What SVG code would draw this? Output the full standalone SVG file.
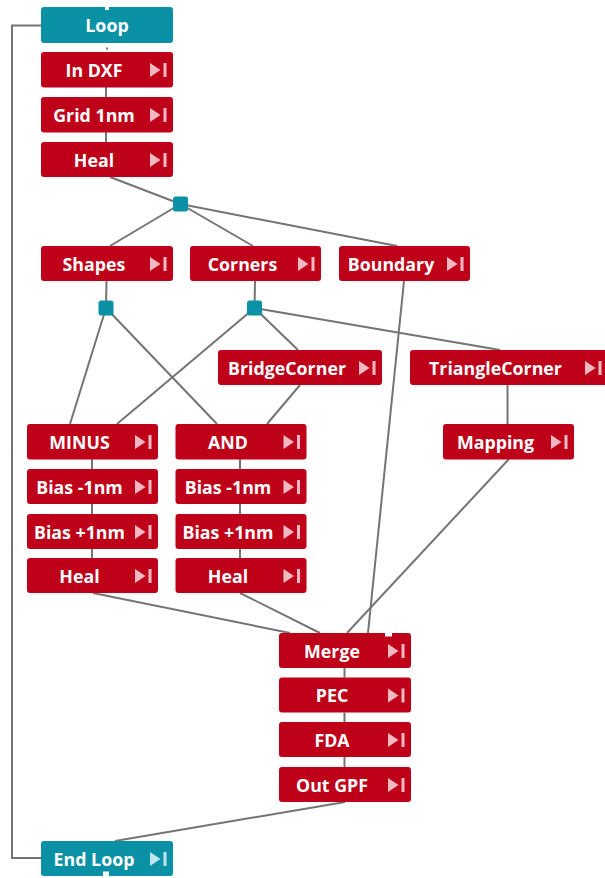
<svg xmlns="http://www.w3.org/2000/svg" width="605" height="878" viewBox="0 0 605 878">
  <style>
    .op rect.box { fill: #bf0019; }
    .lp rect.box { fill: #0b91a5; }
    .lbl { font-family: "Open Sans", "Noto Sans", "DejaVu Sans", sans-serif; font-weight: bold; font-size: 17.8px; fill: #ffffff; text-anchor: middle; }
    .op .ico { fill: #f2b9c2; }
    .lp .ico { fill: #bfe6ec; }
    .jn { fill: #0b91a5; }
    .notch { fill: #ffffff; }
    #connectors line, #connectors polyline { stroke: #747474; stroke-width: 2; fill: none; }
  </style>
  <defs>
    <!-- run-to-here icon: triangle + bar, placed relative to node's right edge -->
    <g id="runIcon">
      <polygon points="-23,11 -23,25 -12.5,18"/>
      <rect x="-9.5" y="11" width="3" height="14"/>
    </g>
  </defs>

  <g id="connectors">
    <polyline points="41,25.5 12,25.5 12,858 41,858"/>
    <line x1="107" y1="47.5" x2="107" y2="49.5"/>
    <line x1="106" y1="87" x2="106" y2="97"/>
    <line x1="106" y1="132" x2="106" y2="142"/>
    <line x1="110" y1="177" x2="180.5" y2="204"/>
    <line x1="180.5" y1="204" x2="110" y2="246"/>
    <line x1="180.5" y1="204" x2="253" y2="246"/>
    <line x1="180.5" y1="204" x2="397" y2="246"/>
    <line x1="106.5" y1="281" x2="106" y2="308"/>
    <line x1="255" y1="281" x2="254.5" y2="308"/>
    <line x1="106" y1="308" x2="70" y2="424"/>
    <line x1="106" y1="308" x2="217" y2="424"/>
    <line x1="254.5" y1="308" x2="117" y2="424"/>
    <line x1="254.5" y1="308" x2="298" y2="350"/>
    <line x1="254.5" y1="308" x2="500" y2="350"/>
    <line x1="300" y1="385" x2="267" y2="424"/>
    <line x1="507.5" y1="385" x2="507.5" y2="424"/>
    <line x1="92" y1="459" x2="92" y2="469"/>
    <line x1="92" y1="504" x2="92" y2="514"/>
    <line x1="92" y1="549" x2="92" y2="558"/>
    <line x1="240" y1="459" x2="240" y2="469"/>
    <line x1="240" y1="504" x2="240" y2="514"/>
    <line x1="240" y1="549" x2="240" y2="558"/>
    <line x1="93" y1="593" x2="290" y2="633"/>
    <line x1="240" y1="593" x2="320" y2="633"/>
    <line x1="509" y1="459" x2="347" y2="633"/>
    <line x1="404" y1="281" x2="368" y2="633"/>
    <line x1="344.5" y1="668" x2="344.5" y2="677.5"/>
    <line x1="344.5" y1="712.5" x2="344.5" y2="722"/>
    <line x1="344.5" y1="757" x2="344.5" y2="767"/>
    <line x1="345" y1="802" x2="115" y2="841"/>
  </g>

  <g id="junctions">
    <rect id="j-heal" class="jn" x="173" y="196.5" width="15" height="15" rx="2.5"/>
    <rect id="j-shapes" class="jn" x="98.5" y="300.5" width="15" height="15" rx="2.5"/>
    <rect id="j-corners" class="jn" x="247" y="300.5" width="15" height="15" rx="2.5"/>
  </g>

  <g id="loop" class="lp">
    <rect class="box" x="41" y="7" width="132" height="36" rx="3"/>
    <rect class="notch" x="105" y="7" width="4" height="3"/>
    <text class="lbl" x="107" y="31.5">Loop</text>
  </g>

  <g id="in-dxf" class="op">
    <rect class="box" x="41" y="52" width="132" height="35.5" rx="3"/>
    <text class="lbl" x="94" y="76.5">In DXF</text>
    <use href="#runIcon" class="ico" x="173" y="52"/>
  </g>
  <g id="grid" class="op">
    <rect class="box" x="41" y="97" width="132" height="35.5" rx="3"/>
    <text class="lbl" x="94" y="121.5">Grid 1nm</text>
    <use href="#runIcon" class="ico" x="173" y="97"/>
  </g>
  <g id="heal-top" class="op">
    <rect class="box" x="41" y="142" width="132" height="35" rx="3"/>
    <text class="lbl" x="94" y="166.5">Heal</text>
    <use href="#runIcon" class="ico" x="173" y="142"/>
  </g>

  <g id="shapes" class="op">
    <rect class="box" x="41" y="246" width="132" height="35" rx="3"/>
    <text class="lbl" x="94" y="270.5">Shapes</text>
    <use href="#runIcon" class="ico" x="173" y="246"/>
  </g>
  <g id="corners" class="op">
    <rect class="box" x="190" y="246" width="131" height="35" rx="3"/>
    <text class="lbl" x="242.5" y="270.5">Corners</text>
    <use href="#runIcon" class="ico" x="321" y="246"/>
  </g>
  <g id="boundary" class="op">
    <rect class="box" x="339" y="246" width="131" height="35" rx="3"/>
    <text class="lbl" x="391" y="270.5">Boundary</text>
    <use href="#runIcon" class="ico" x="470" y="246"/>
  </g>

  <g id="bridge-corner" class="op">
    <rect class="box" x="218" y="350" width="164" height="35" rx="3"/>
    <text class="lbl" x="287" y="374.5">BridgeCorner</text>
    <use href="#runIcon" class="ico" x="382" y="350"/>
  </g>
  <g id="triangle-corner" class="op">
    <rect class="box" x="410" y="350" width="198" height="35" rx="3"/>
    <text class="lbl" x="495.5" y="374.5">TriangleCorner</text>
    <use href="#runIcon" class="ico" x="608" y="350"/>
  </g>

  <g id="minus" class="op">
    <rect class="box" x="27" y="424" width="131" height="35.5" rx="3"/>
    <text class="lbl" x="79.5" y="448.5">MINUS</text>
    <use href="#runIcon" class="ico" x="158" y="424"/>
  </g>
  <g id="bias-m1-a" class="op">
    <rect class="box" x="27" y="469" width="131" height="35" rx="3"/>
    <text class="lbl" x="79.5" y="493.5">Bias -1nm</text>
    <use href="#runIcon" class="ico" x="158" y="469"/>
  </g>
  <g id="bias-p1-a" class="op">
    <rect class="box" x="27" y="514" width="131" height="35" rx="3"/>
    <text class="lbl" x="79.5" y="538.5">Bias +1nm</text>
    <use href="#runIcon" class="ico" x="158" y="514"/>
  </g>
  <g id="heal-a" class="op">
    <rect class="box" x="27" y="558" width="131" height="35" rx="3"/>
    <text class="lbl" x="79.5" y="582.5">Heal</text>
    <use href="#runIcon" class="ico" x="158" y="558"/>
  </g>

  <g id="and" class="op">
    <rect class="box" x="175.5" y="424" width="131" height="35.5" rx="3"/>
    <text class="lbl" x="228" y="448.5">AND</text>
    <use href="#runIcon" class="ico" x="306.5" y="424"/>
  </g>
  <g id="bias-m1-b" class="op">
    <rect class="box" x="175.5" y="469" width="131" height="35" rx="3"/>
    <text class="lbl" x="228" y="493.5">Bias -1nm</text>
    <use href="#runIcon" class="ico" x="306.5" y="469"/>
  </g>
  <g id="bias-p1-b" class="op">
    <rect class="box" x="175.5" y="514" width="131" height="35" rx="3"/>
    <text class="lbl" x="228" y="538.5">Bias +1nm</text>
    <use href="#runIcon" class="ico" x="306.5" y="514"/>
  </g>
  <g id="heal-b" class="op">
    <rect class="box" x="175.5" y="558" width="131" height="35" rx="3"/>
    <text class="lbl" x="228" y="582.5">Heal</text>
    <use href="#runIcon" class="ico" x="306.5" y="558"/>
  </g>

  <g id="mapping" class="op">
    <rect class="box" x="443" y="424" width="131" height="35.5" rx="3"/>
    <text class="lbl" x="495.5" y="448.5">Mapping</text>
    <use href="#runIcon" class="ico" x="574" y="424"/>
  </g>

  <g id="merge" class="op">
    <rect class="box" x="279" y="633" width="132" height="35" rx="3"/>
    <rect class="notch" x="385" y="632.5" width="7" height="4"/>
    <text class="lbl" x="332" y="657.5">Merge</text>
    <use href="#runIcon" class="ico" x="411" y="633"/>
  </g>
  <g id="pec" class="op">
    <rect class="box" x="279" y="677.5" width="132" height="35" rx="3"/>
    <text class="lbl" x="332" y="702">PEC</text>
    <use href="#runIcon" class="ico" x="411" y="677.5"/>
  </g>
  <g id="fda" class="op">
    <rect class="box" x="279" y="722" width="132" height="35" rx="3"/>
    <text class="lbl" x="332" y="746.5">FDA</text>
    <use href="#runIcon" class="ico" x="411" y="722"/>
  </g>
  <g id="out-gpf" class="op">
    <rect class="box" x="279" y="767" width="132" height="35" rx="3"/>
    <text class="lbl" x="332" y="791.5">Out GPF</text>
    <use href="#runIcon" class="ico" x="411" y="767"/>
  </g>

  <g id="end-loop" class="lp">
    <rect class="box" x="41" y="841" width="132" height="35" rx="3"/>
    <rect class="notch" x="103" y="871.5" width="6" height="4.5"/>
    <text class="lbl" x="94" y="865.5">End Loop</text>
    <use href="#runIcon" class="ico" x="173" y="841"/>
  </g>
</svg>
